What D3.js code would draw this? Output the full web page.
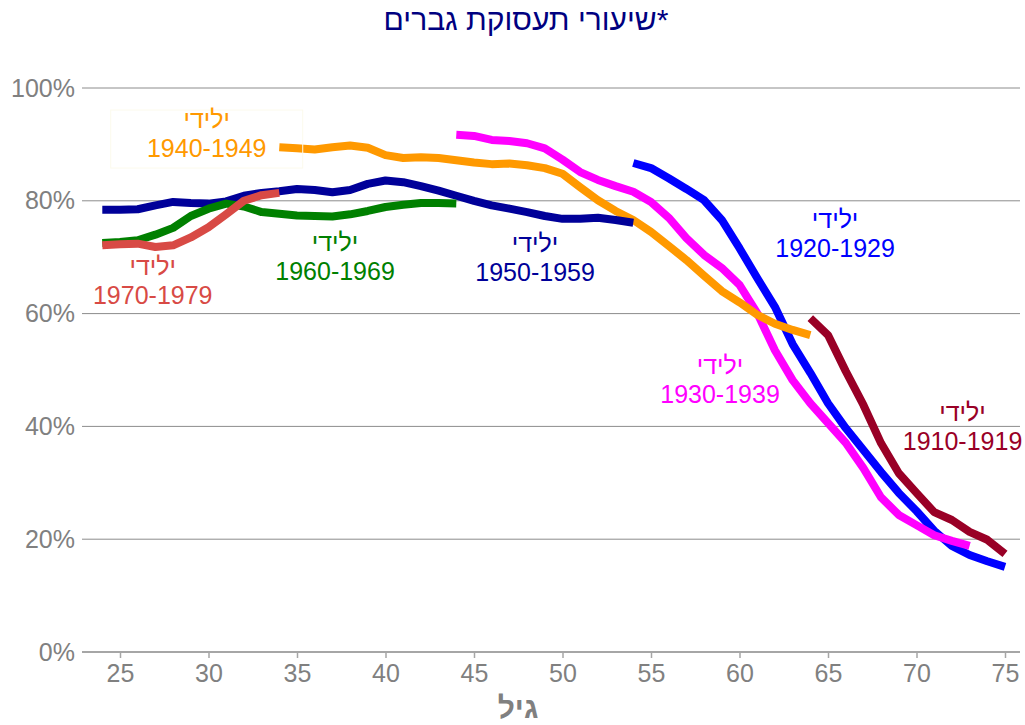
<!DOCTYPE html>
<html>
<head>
<meta charset="utf-8">
<script src="https://cdn.jsdelivr.net/npm/d3@7"></script>
<style>
	body { margin: 0; background: #fff; }
	svg text { font-family: "Liberation Sans", Arial, sans-serif; }
</style>
</head>
<body>
<svg id="chart" width="1025" height="725"></svg>
<script>
// DATA
var xTickValues = [25, 30, 35, 40, 45, 50, 55, 60, 65, 70, 75];
var yTickValues = [0, 20, 40, 60, 80, 100];

var cohortNames = ['1910-1919', '1920-1929', '1930-1939', '1940-1949', '1950-1959', '1960-1969', '1970-1979'];
var cohortStartAge = [64, 54, 44, 34, 24, 24, 24];

var rate1910 = [59.2, 56.2, 49.8, 43.8, 37.0, 31.7, 28.2, 24.8, 23.4, 21.3, 19.9, 17.4];
var rate1920 = [86.7, 85.8, 84.0, 82.1, 80.1, 76.6, 71.6, 66.3, 61.2, 54.6, 49.5, 44.1, 39.7, 35.8, 31.9, 28.2, 25.0, 21.5, 18.8, 17.2, 16.1, 15.1];
var rate1930 = [91.7, 91.5, 90.8, 90.6, 90.2, 89.3, 87.3, 85.1, 83.7, 82.6, 81.6, 79.8, 77.0, 73.4, 70.4, 68.1, 65.1, 60.1, 53.5, 48.2, 44.1, 40.6, 37.1, 32.6, 27.4, 24.3, 22.5, 20.7, 19.7, 18.8];
var rate1940 = [89.5, 89.3, 89.1, 89.5, 89.8, 89.4, 88.1, 87.6, 87.7, 87.6, 87.2, 86.8, 86.5, 86.6, 86.3, 85.8, 84.8, 82.4, 80.1, 78.2, 76.6, 74.5, 72.0, 69.5, 66.7, 64.0, 62.0, 59.8, 58.2, 57.1, 56.2];
var rate1950 = [78.4, 78.4, 78.5, 79.2, 79.8, 79.6, 79.5, 79.9, 80.9, 81.4, 81.7, 82.1, 81.9, 81.5, 81.9, 83.0, 83.6, 83.3, 82.6, 81.8, 80.9, 80.0, 79.2, 78.6, 78.0, 77.3, 76.8, 76.8, 77.0, 76.6, 76.1];
var rate1960 = [72.5, 72.7, 73.0, 74.0, 75.2, 77.3, 78.6, 79.5, 79.0, 78.0, 77.7, 77.4, 77.3, 77.2, 77.6, 78.2, 78.9, 79.3, 79.6, 79.6, 79.5];
var rate1970 = [72.1, 72.3, 72.4, 71.8, 72.1, 73.5, 75.3, 77.6, 80.0, 81.0, 81.4];

var cohortRates = [rate1910, rate1920, rate1930, rate1940, rate1950, rate1960, rate1970];

var titleText = 'שיעורי תעסוקת גברים*';
var xTitleText = 'גיל';
var labelPrefix = 'ילידי';

(function(window, d3){
	'use strict';

	var config = {
		width: 1025,
		height: 725,
		plot: { left: 82, right: 1020 },
		xRange: [120, 1005],
		yRange: [652, 88],
		fontSize: 25,
		colors: ['#990026', '#0000ff', '#ff00ff', '#ff9900', '#000099', '#008000', '#d84a45'],
		// label anchor: centre age, baseline of first line (percent)
		labels: [
			{ age: 72.6, pct: 41.0 },
			{ age: 65.4, pct: 75.2 },
			{ age: 58.9, pct: 49.3 },
			{ age: 29.9, pct: 92.9 },
			{ age: 48.45, pct: 71.0 },
			{ age: 37.15, pct: 71.1 },
			{ age: 26.85, pct: 66.8 }
		]
	};

	var svg = d3.select('#chart');
	var xScale = d3.scaleLinear().domain([25, 75]).range(config.xRange);
	var yScale = d3.scaleLinear().domain([0, 100]).range(config.yRange);

	drawGrid();
	drawAxes();
	drawLines();
	drawLabels();
	drawTitles();

	function drawGrid(){
		svg.append('g').attr('class', 'grid')
			.selectAll('line').data(yTickValues).enter().append('line')
			.attr('x1', config.plot.left)
			.attr('x2', config.plot.right)
			.attr('y1', function(d){ return yScale(d); })
			.attr('y2', function(d){ return yScale(d); })
			.attr('stroke', function(d){ return d === 0 ? '#a6a6a6' : '#8c8c8c'; })
			.attr('stroke-width', function(d){ return d === 0 ? 2 : 1; });
	}

	function drawAxes(){
		var yAxis = d3.axisLeft(yScale)
			.tickValues(yTickValues)
			.tickSize(0)
			.tickPadding(0)
			.tickFormat(function(d){ return d + '%'; });
		var gy = svg.append('g').attr('transform', 'translate(75,0)').call(yAxis);
		gy.select('.domain').remove();
		gy.selectAll('text')
			.attr('fill', '#808080')
			.attr('font-size', config.fontSize)
			.attr('font-family', '"Liberation Sans", Arial, sans-serif');

		var xAxis = d3.axisBottom(xScale)
			.tickValues(xTickValues)
			.tickSize(6)
			.tickPadding(6);
		var gx = svg.append('g').attr('transform', 'translate(0,' + yScale(0) + ')').call(xAxis);
		gx.select('.domain').remove();
		gx.selectAll('.tick line').attr('stroke', '#a6a6a6').attr('stroke-width', 1.5);
		gx.selectAll('text')
			.attr('fill', '#808080')
			.attr('font-size', config.fontSize)
			.attr('font-family', '"Liberation Sans", Arial, sans-serif');
	}

	function drawLines(){
		var line = d3.line()
			.x(function(d){ return xScale(d.age); })
			.y(function(d){ return yScale(d.value); });

		var series = cohortRates.map(function(rates, i){
			return rates.map(function(v, j){
				return { age: cohortStartAge[i] + j, value: v };
			});
		});

		svg.append('g').attr('class', 'lines')
			.selectAll('path').data(series).enter().append('path')
			.attr('d', line)
			.attr('fill', 'none')
			.attr('stroke', function(d, i){ return config.colors[i]; })
			.attr('stroke-width', 8)
			.attr('stroke-linejoin', 'round')
			.attr('stroke-linecap', 'butt');
	}

	function drawLabels(){
		// faint frame the original keeps round the 1940-1949 label
		var framed = config.labels[3];
		svg.append('rect')
			.attr('x', xScale(framed.age) - 96)
			.attr('y', yScale(framed.pct) - 18)
			.attr('width', 192)
			.attr('height', 58)
			.attr('fill', 'none')
			.attr('stroke', '#fcfaec')
			.attr('stroke-width', 1);

		var g = svg.append('g').attr('class', 'labels')
			.selectAll('g').data(cohortNames).enter().append('g')
			.attr('transform', function(d, i){
				var l = config.labels[i];
				return 'translate(' + xScale(l.age) + ',' + yScale(l.pct) + ')';
			})
			.attr('fill', function(d, i){ return config.colors[i]; })
			.attr('font-size', config.fontSize)
			.attr('text-anchor', 'middle');

		g.append('text').text(labelPrefix);
		g.append('text').attr('y', 29).text(function(d){ return d; });
	}

	function drawTitles(){
		// leading LRM keeps the asterisk on the right, as in the original
		svg.append('text')
			.attr('x', 526).attr('y', 30)
			.attr('text-anchor', 'middle')
			.attr('fill', '#000080')
			.attr('font-size', 30)
			.text('\u200E' + titleText);

		svg.append('text')
			.attr('x', 518).attr('y', 718)
			.attr('text-anchor', 'middle')
			.attr('fill', '#808080')
			.attr('font-size', 30)
			.attr('font-weight', 'bold')
			.text(xTitleText);
	}

})(window, window.d3);
</script>
</body>
</html>
